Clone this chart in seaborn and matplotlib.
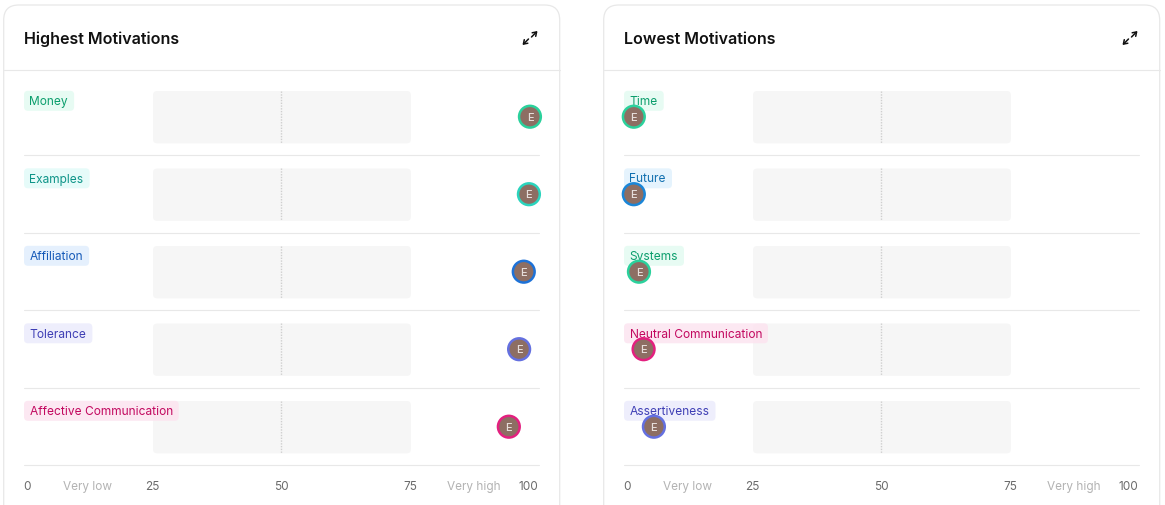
#!/usr/bin/env python3

import matplotlib
matplotlib.use('Agg')
import matplotlib.pyplot as plt
from matplotlib.patches import FancyBboxPatch
import seaborn as sns

# Chart data
high_labels = ['Money', 'Examples', 'Affiliation', 'Tolerance', 'Affective Communication']
high_values = [98.3, 98.1, 97.1, 96.2, 94.2]
high_text = ['#0b9e6c', '#0e9488', '#1559b8', '#3f3fb5', '#c2085f']
high_tag = ['#e3fbf1', '#e2fbf8', '#e1eefd', '#ececfc', '#fce4f0']
high_ring = ['#2bd19c', '#2bd4bd', '#1d72d8', '#6470e0', '#e3207f']

low_labels = ['Time', 'Future', 'Systems', 'Neutral Communication', 'Assertiveness']
low_values = [2, 2, 3, 3.9, 5.9]
low_text = ['#0b9e6c', '#1170b0', '#0b9e6c', '#c2085f', '#3f3fb5']
low_tag = ['#e3fbf1', '#e1f2fd', '#e3fbf1', '#fce4f0', '#ececfc']
low_ring = ['#2bd19c', '#1a86d8', '#2bd19c', '#e3207f', '#6470e0']

tick_values = [0, 25, 50, 75, 100]
band_start = 25
band_end = 75
zone_ticks = [12.5, 87.5]
zone_labels = ['Very low', 'Very high']

WIDTH, HEIGHT = 1165, 505
FONT = 'Inter'
LINE = '#e8e8e8'

sns.set_theme(style='white')
plt.rcParams['font.family'] = [FONT, 'DejaVu Sans']

fig = plt.figure(figsize=(WIDTH / 100, HEIGHT / 100), dpi=100, facecolor='white')

# pixel canvas for the cards
bg = fig.add_axes([0, 0, 1, 1], zorder=0)
bg.set_xlim(0, WIDTH)
bg.set_ylim(HEIGHT, 0)
bg.axis('off')


def draw_card(left, title):
    right = left + 556
    bg.add_patch(FancyBboxPatch((left - 0.3, 5), 556, 560, boxstyle='round,pad=0,rounding_size=15',
                                fc='white', ec=LINE, lw=0.9))
    bg.plot([left, right], [70.2, 70.2], color=LINE, lw=0.8)
    bg.text(left + 19.5, 38, title, fontsize=11.55, fontweight='semibold', color='#111111', va='center_baseline')
    # expand icon
    x0, y0 = right - 37.5, 45
    x1, y1 = right - 22.5, 31
    bg.annotate('', xy=(x0, y0), xytext=(x0 + 6, y0 - 6),
                arrowprops=dict(arrowstyle='->,head_length=0.22,head_width=0.15', color='#111111', lw=1.1, shrinkA=0, shrinkB=0))
    bg.annotate('', xy=(x1, y1), xytext=(x1 - 6, y1 + 6),
                arrowprops=dict(arrowstyle='->,head_length=0.22,head_width=0.15', color='#111111', lw=1.1, shrinkA=0, shrinkB=0))


def draw_panel(left, labels, values, text_colors, tag_colors, ring_colors):
    ax = fig.add_axes([(left + 19.5) / WIDTH, 1 - 465.45 / HEIGHT, 515.2 / WIDTH, 387.5 / HEIGHT], zorder=1)
    ax.patch.set_alpha(0)

    # the 25-75 band, drawn as bars and then given rounded corners
    sns.barplot(x=[band_end - band_start] * len(labels), y=list(range(len(labels))), orient='y',
                left=band_start, width=0.675, color='#f5f5f5', saturation=1, ax=ax, native_scale=True)
    ax.set_xlim(0, 100)
    ax.set_ylim(4.5, -0.5)
    fig.canvas.draw()
    for bar in list(ax.patches):
        (x0, y0), (x1, y1) = bar.get_window_extent().get_points()
        bar.remove()
        ax.add_patch(FancyBboxPatch((x0 + 0.7, y0 - 0.5), x1 - x0 + 0.3, y1 - y0, boxstyle='round,pad=0,rounding_size=4',
                                    fc='#f6f6f6', ec='none', transform=None, clip_on=False, zorder=1))
    for i in range(len(labels)):
        ax.plot([50, 50], [i - 0.3375, i + 0.3375], color='#cfcfcf', lw=1, ls=(0, (1, 1)), zorder=2)
        ax.axhline(i + 0.5, color=LINE, lw=0.8, zorder=1, clip_on=False)

    # category tags
    renderer = fig.canvas.get_renderer()
    for i, label in enumerate(labels):
        row_y = 116.8 + 77.5 * i
        txt = bg.text(left + 25.5, 0, label, fontsize=8.6, va='center_baseline')
        width = txt.get_window_extent(renderer).width
        txt.remove()
        ax.add_patch(FancyBboxPatch((left + 20, row_y - 26), width + 11.5, 20, boxstyle='round,pad=0,rounding_size=4',
                                    fc=tag_colors[i], ec='none', alpha=0.85, transform=bg.transData,
                                    clip_on=False, zorder=3))
        ax.text(left + 25.5, row_y - 16.3, label, fontsize=8.6, color=text_colors[i], va='center_baseline',
                transform=bg.transData, zorder=4)

    # score markers
    sns.scatterplot(x=values, y=list(range(len(labels))), hue=list(range(len(labels))), palette=ring_colors,
                    s=245, facecolor='#8d6e63', legend=False, ax=ax, zorder=5, clip_on=False)
    for coll in ax.collections:
        coll.set_facecolor('#8d6e63')
        coll.set_edgecolor(ring_colors)
        coll.set_linewidth(1.8)
    for i, v in enumerate(values):
        ax.text(v, i, 'E', fontsize=8, fontweight='medium', color='#e6dedb', ha='center', va='center_baseline', zorder=6)

    # axis text
    ticks = sorted(tick_values + zone_ticks)
    ax.set_xticks(ticks)
    ax.set_xticklabels([zone_labels[zone_ticks.index(t)] if t in zone_ticks else str(t) for t in ticks])
    ax.tick_params(axis='x', length=0, pad=11.3, labelsize=8.5)
    ax.set_yticks([])
    ax.set_xlabel('')
    ax.set_ylabel('')
    for lab, t in zip(ax.get_xticklabels(), ticks):
        lab.set_color('#b3b3b3' if t in zone_ticks else '#6b6b6b')
        if t == 0:
            lab.set_ha('left')
        if t == 100:
            lab.set_ha('right')
    sns.despine(ax=ax, left=True, bottom=True)


draw_card(4, 'Highest Motivations')
draw_card(604, 'Lowest Motivations')
draw_panel(4, high_labels, high_values, high_text, high_tag, high_ring)
draw_panel(604, low_labels, low_values, low_text, low_tag, low_ring)

fig.savefig('out.png', dpi=100)
